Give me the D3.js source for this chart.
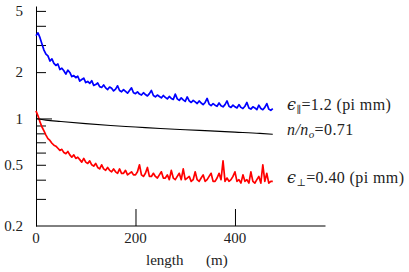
<!DOCTYPE html>
<html>
<head>
<meta charset="utf-8">
<script src="https://cdn.jsdelivr.net/npm/d3@7"></script>
<style>
  html, body { margin: 0; padding: 0; background: #fff; }
  svg text { font-family: "Liberation Serif", "Times New Roman", "DejaVu Serif", "Noto Serif", serif !important; fill: #222; }
  svg text .sym { font-family: "DejaVu Serif", "DejaVu Sans", serif !important; }
</style>
</head>
<body>
<div id="container"></div>
<script>
// Sample positions along the line (m)
let lengthMetres = [
  0, 4, 8, 12, 16, 20, 24, 28, 32, 36, 40, 44, 48, 52, 56, 60, 64, 68, 72, 76,
  80, 84, 88, 92, 96, 100, 104, 108, 112, 116, 120, 124, 128, 132, 136, 140, 144, 148, 152, 156,
  160, 164, 168, 172, 176, 180, 184, 188, 192, 196, 200, 204, 208, 212, 216, 220, 224, 228, 232, 236,
  240, 244, 248, 252, 256, 260, 264, 268, 272, 276, 280, 284, 288, 292, 296, 300, 304, 308, 312, 316,
  320, 324, 328, 332, 336, 340, 344, 348, 352, 356, 360, 364, 368, 372, 376, 380, 384, 388, 392, 396,
  400, 404, 408, 412, 416, 420, 424, 428, 432, 436, 440, 444, 448, 452, 456, 460, 464, 468, 472, 476
];

// Parallel emittance (blue)
let epsParallel = [
  3.45, 3.60, 3.35, 3.05, 2.78, 2.62, 2.55, 2.36, 2.44, 2.28, 2.21, 2.26, 2.08, 2.12, 2.04, 1.94, 2.06, 1.99, 1.87, 1.90,
  1.84, 1.88, 1.75, 1.79, 1.83, 1.71, 1.74, 1.69, 1.76, 1.64, 1.66, 1.70, 1.61, 1.59, 1.65, 1.58, 1.54, 1.60, 1.57, 1.51,
  1.55, 1.63, 1.52, 1.49, 1.54, 1.50, 1.46, 1.52, 1.58, 1.47, 1.45, 1.49, 1.44, 1.42, 1.47, 1.43, 1.40, 1.45, 1.52, 1.41,
  1.38, 1.42, 1.39, 1.36, 1.41, 1.37, 1.34, 1.39, 1.35, 1.33, 1.44, 1.34, 1.31, 1.36, 1.32, 1.29, 1.38, 1.30, 1.27, 1.31,
  1.28, 1.25, 1.30, 1.26, 1.23, 1.27, 1.35, 1.24, 1.21, 1.25, 1.22, 1.20, 1.26, 1.21, 1.19, 1.23, 1.30, 1.20, 1.18, 1.22,
  1.19, 1.17, 1.23, 1.18, 1.16, 1.20, 1.27, 1.17, 1.15, 1.19, 1.17, 1.14, 1.22, 1.16, 1.14, 1.18, 1.25, 1.15, 1.13, 1.16
];

// Perpendicular emittance (red)
let epsPerp = [
  1.12, 1.04, 0.95, 0.88, 0.83, 0.78, 0.74, 0.72, 0.69, 0.67, 0.66, 0.64, 0.62, 0.63, 0.60, 0.59, 0.61, 0.58, 0.56, 0.58,
  0.55, 0.56, 0.54, 0.52, 0.55, 0.52, 0.51, 0.53, 0.50, 0.49, 0.51, 0.48, 0.47, 0.50, 0.47, 0.46, 0.48, 0.46, 0.45, 0.47,
  0.45, 0.44, 0.47, 0.44, 0.44, 0.46, 0.43, 0.44, 0.45, 0.43, 0.43, 0.45, 0.50, 0.43, 0.42, 0.44, 0.48, 0.42, 0.42, 0.44,
  0.42, 0.41, 0.43, 0.45, 0.41, 0.41, 0.43, 0.40, 0.46, 0.41, 0.40, 0.42, 0.44, 0.40, 0.47, 0.40, 0.41, 0.42, 0.39, 0.40,
  0.45, 0.40, 0.39, 0.41, 0.43, 0.39, 0.40, 0.42, 0.44, 0.39, 0.39, 0.41, 0.44, 0.40, 0.53, 0.39, 0.41, 0.39, 0.40, 0.42,
  0.45, 0.39, 0.40, 0.38, 0.43, 0.39, 0.40, 0.38, 0.45, 0.39, 0.38, 0.40, 0.42, 0.38, 0.50, 0.39, 0.44, 0.38, 0.39, 0.39
];

// Relative density (black)
let densityLength = [0, 20, 50, 100, 150, 200, 250, 300, 350, 400, 450, 476];
let densityRatio = [1.0, 0.975, 0.955, 0.925, 0.90, 0.88, 0.86, 0.845, 0.83, 0.815, 0.80, 0.79];

// Axis ticks
let xTicks = [0, 200, 400];
let yTicks = [0.3, 0.4, 0.5, 0.6, 0.7, 0.8, 0.9, 1, 2, 3, 4, 5];
let yLabels = [0.2, 0.5, 1, 2, 5];

function BuildGraph(){

  let chartWidth = 409;
  let chartHeight = 272;

  let svg = d3.select('#container')
    .append('svg')
    .attr('width', chartWidth)
    .attr('height', chartHeight);

  let xScale = d3.scaleLinear()
    .domain([0, 582])
    .range([36, 325.5]);

  let yScale = d3.scaleLog()
    .domain([0.2, 5.38])
    .range([226, 6]);

  // x axis: grey base line, ticks pointing up
  let xAxis = d3.axisBottom(xScale)
    .tickValues(xTicks)
    .tickSizeInner(-17)
    .tickSizeOuter(0)
    .tickPadding(6)
    .offset(0);
  let gx = svg.append('g')
    .attr('transform', 'translate(0,226)')
    .call(xAxis);
  gx.select('.domain').attr('stroke', '#000').attr('stroke-width', 1);
  gx.selectAll('.tick line').attr('stroke', '#000').attr('transform', 'translate(0.5,0)');
  gx.selectAll('.tick text')
    .style('font-size', '15px')
    .attr('fill', '#222');

  // y axis: log scale, ticks pointing right
  let yAxis = d3.axisLeft(yScale)
    .tickValues([0.2].concat(yTicks))
    .tickSizeInner(-10)
    .tickSizeOuter(0)
    .tickPadding(13)
    .tickFormat((d) => yLabels.includes(d) ? String(d) : '');
  let gy = svg.append('g')
    .attr('transform', 'translate(36,0)')
    .call(yAxis);
  gy.select('.domain').attr('stroke', '#000');
  gy.selectAll('.tick line')
    .attr('stroke', '#000')
    .attr('x2', (d) => d === 1 ? 16 : 10)
    .style('display', (d) => d === 0.2 ? 'none' : null);
  gy.selectAll('.tick text')
    .style('font-size', '15px')
    .attr('fill', '#222');

  // Curves
  let lineGen = d3.line()
    .x((d) => xScale(d[0]))
    .y((d) => yScale(d[1]));

  svg.append('path')
    .datum(lengthMetres.map((m, i) => [m, epsParallel[i]]))
    .attr('fill', 'none')
    .attr('stroke', '#0000ff')
    .attr('stroke-width', 1.7)
    .attr('stroke-linejoin', 'round')
    .attr('d', lineGen);

  svg.append('path')
    .datum(lengthMetres.map((m, i) => [m, epsPerp[i]]))
    .attr('fill', 'none')
    .attr('stroke', '#ff0000')
    .attr('stroke-width', 1.7)
    .attr('stroke-linejoin', 'round')
    .attr('d', lineGen);

  svg.append('path')
    .datum(densityLength.map((m, i) => [m, densityRatio[i]]))
    .attr('fill', 'none')
    .attr('stroke', '#000')
    .attr('stroke-width', 1.1)
    .attr('d', lineGen.curve(d3.curveMonotoneX));

  // Labels at the line ends
  let labelX = 287;
  let t1 = svg.append('text')
    .attr('x', labelX)
    .attr('y', 110)
    .style('font-size', '16px')
    .style('letter-spacing', '0.4px');
  t1.append('tspan').attr('class', 'sym').style('font-style', 'italic').text('\u03F5');
  t1.append('tspan').attr('class', 'sym').attr('dy', 3).style('font-size', '10px').text('\u2225');
  t1.append('tspan').attr('dy', -3).text('=1.2 (pi mm)');

  let t2 = svg.append('text')
    .attr('x', labelX)
    .attr('y', 135)
    .style('font-size', '16px')
    .style('letter-spacing', '0.4px');
  t2.append('tspan').style('font-style', 'italic').text('n/n');
  t2.append('tspan').attr('dy', 3).style('font-size', '11px').style('font-style', 'italic').text('o');
  t2.append('tspan').attr('dy', -3).text('=0.71');

  let t3 = svg.append('text')
    .attr('x', labelX)
    .attr('y', 183)
    .style('font-size', '16px')
    .style('letter-spacing', '0.4px');
  t3.append('tspan').attr('class', 'sym').style('font-style', 'italic').text('\u03F5');
  t3.append('tspan').attr('class', 'sym').attr('dy', 3).style('font-size', '10px').text('\u22A5');
  t3.append('tspan').attr('dy', -3).text('=0.40 (pi mm)');

  // x axis title
  let xt = svg.append('text')
    .attr('x', 146)
    .attr('y', 265)
    .style('font-size', '15px');
  xt.append('tspan').text('length');
  xt.append('tspan').attr('x', 206).text('(m)');
}

BuildGraph();
</script>
</body>
</html>
